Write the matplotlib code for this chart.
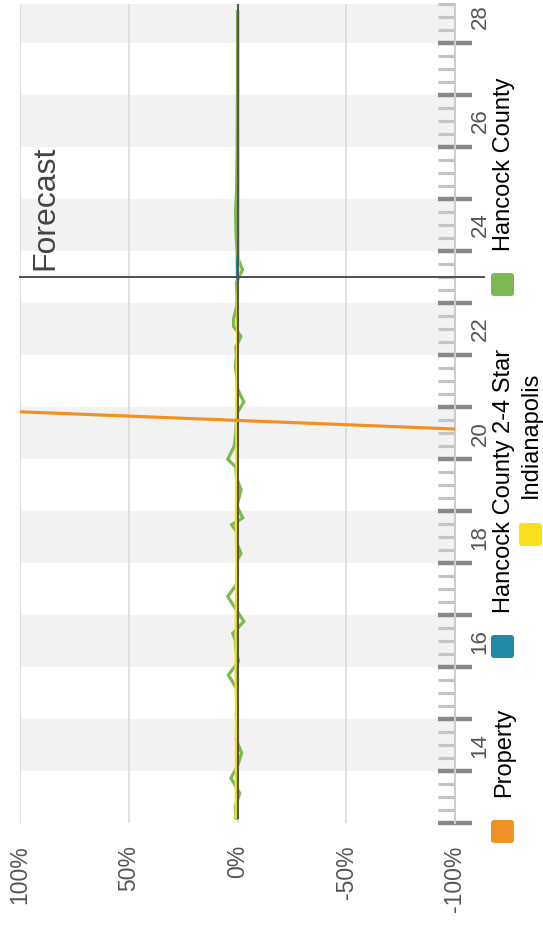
import matplotlib
matplotlib.use("Agg")
import matplotlib.pyplot as plt
from matplotlib.patches import FancyBboxPatch
from matplotlib.ticker import MultipleLocator

plt.rcParams['font.family'] = ['Liberation Sans', 'DejaVu Sans']

# ---------------- data ----------------
series_names = ["Property", "Hancock County 2-4 Star", "Hancock County", "Indianapolis"]
series_colors = ["#F29122", "#218AA6", "#7CB952", "#FCE01F"]

property_years = [20.5, 21.0]
property_vals = [-148, 154]

star_years = [13.1, 15.0, 17.0, 19.0, 21.0, 23.0, 24.5, 26.0, 28.6]
star_vals = [0.1, 0.0, 0.1, 0.0, 0.1, 0.0, 0.3, 0.1, 0.0]

county_years = [13.10, 13.32, 13.58, 13.87, 14.10, 14.35, 14.60, 14.85, 15.10, 15.35,
                15.60, 15.85, 16.11, 16.35, 16.52, 16.65, 16.88, 17.10, 17.36, 17.60,
                17.85, 18.05, 18.19, 18.40, 18.60, 18.74, 18.87, 19.10, 19.41, 19.65,
                19.85, 20.00, 20.25, 20.50, 20.75, 20.90, 21.10, 21.35, 21.55, 21.78,
                22.00, 22.15, 22.36, 22.55, 22.70, 22.95, 23.15, 23.40, 23.64, 23.85,
                24.25, 24.75, 25.25, 26.00, 27.00, 28.00, 28.60]
county_vals = [0.8, 1.0, -1.0, 3.0, 0.0, -1.9, 0.5, 0.3, 0.5, 0.3,
               0.5, 4.2, -0.5, 0.8, 1.0, 2.2, -2.9, 0.5, 4.5, 0.3,
               0.2, 0.3, -1.6, 0.5, 0.3, 2.7, -2.4, 0.3, -1.6, 0.5,
               0.8, 4.5, 1.5, 0.8, 0.5, 0.0, -2.9, 0.0, 0.3, 1.0,
               0.5, 0.8, -1.6, 1.8, 1.8, 0.3, 0.2, 0.5, -2.3, -0.3,
               0.6, 0.9, 0.3, 0.1, 0.0, 0.0, 0.0]

indy_years = [13.1, 14, 15, 16, 17, 18, 19, 20, 21, 22, 23, 23.5, 24, 26, 28, 28.6]
indy_vals = [0.8, 0.8, 0.7, 0.9, 0.8, 0.6, 0.8, 0.5, 0.6, 0.3, 0.0, -0.3, -0.6, -0.6, -0.6, -0.6]

pct_ticks = [100, 50, 0, -50, -100]
pct_labels = ["100%", "50%", "0%", "-50%", "-100%"]
year_labels = [14, 16, 18, 20, 22, 24, 26, 28]
forecast_year = 23.5

# ---------------- figure ----------------
W, H = 543, 932
fig = plt.figure(figsize=(W / 100, H / 100), dpi=100)
ax = fig.add_axes([20 / W, (H - 823.3) / H, 435 / W, 819.3 / H])
ax.set_xlim(100, -100)
ax.set_ylim(13, 28.75)

# alternating bands
for y in range(14, 29, 2):
    ax.axhspan(y, y + 1, color="#F2F2F2", lw=0, zorder=0.2)

ax.set_axisbelow(True)
ax.grid(axis='x', color="#D9D9D9", lw=1.1)
ax.grid(axis='y', visible=False)

# series
ax.plot(star_vals, star_years, color=series_colors[1], lw=2.0, zorder=3, solid_joinstyle='miter')
ax.plot(county_vals, county_years, color=series_colors[2], lw=2.3, zorder=3.2, solid_joinstyle='miter')
ax.plot(indy_vals, indy_years, color=series_colors[3], lw=1.6, zorder=3.4)
ax.axvline(0, ymin=0.1 / 15.75, ymax=1, color="#555555", lw=1.5, zorder=3.6)
ax.plot(property_vals, property_years, color=series_colors[0], lw=2.3, zorder=3.8)

# forecast line and label
ax.axhline(forecast_year, xmin=0, xmax=1.067, color="#505050", lw=1.4, clip_on=False, zorder=5)
ax.text(88.4, forecast_year + 0.14, "Forecast", rotation=90, ha='center', va='bottom',
        fontsize=23, color="#444444")

# percent axis (bottom)
ax.set_xticks(pct_ticks)
ax.set_xticklabels(pct_labels, rotation=90)
ax.tick_params(axis='x', length=0, pad=15.8, labelsize=16.5, labelcolor="#555555")

# year axis (right)
ax.yaxis.set_ticks_position('right')
ax.set_yticks(range(13, 29))
ax.yaxis.set_minor_locator(MultipleLocator(0.25))
ax.tick_params(axis='y', which='major', direction='inout', length=23.8, width=3.2,
               color="#888888", labelright=False, labelleft=False)
ax.tick_params(axis='y', which='minor', direction='in', length=12, width=2.3,
               color="#C4C4C4")
ytr = ax.get_yaxis_transform()
for yl in year_labels:
    ax.text(1.0575, yl + 0.5, str(yl), transform=ytr, rotation=90, ha='center', va='center',
            fontsize=16, color="#555555", clip_on=False)

for s in ['top', 'left', 'bottom']:
    ax.spines[s].set_visible(False)
ax.spines['right'].set_color("#CCCCCC")
ax.spines['right'].set_linewidth(1.4)

# legend overlay (pixel coordinates)
lg = fig.add_axes([0, 0, 1, 1], zorder=10)
lg.set_xlim(0, W)
lg.set_ylim(H, 0)
lg.axis('off')
lg.patch.set_alpha(0)
legend_layout = [  # (square x, square y, text x centre, text start y)
    (491, 820, 504, 797),
    (491, 635, 504, 613),
    (491, 273, 504, 251),
    (519, 523, 531, 498),
]
for name, col, (sx, sy, tx, ty) in zip(series_names, series_colors, legend_layout):
    lg.add_patch(FancyBboxPatch((sx, sy), 23, 23, boxstyle="round,pad=0,rounding_size=3",
                                facecolor=col, edgecolor='none'))
    lg.text(tx, ty, name, rotation=90, ha='center', va='bottom', fontsize=17, color="black")

fig.savefig("out.png", dpi=100)
